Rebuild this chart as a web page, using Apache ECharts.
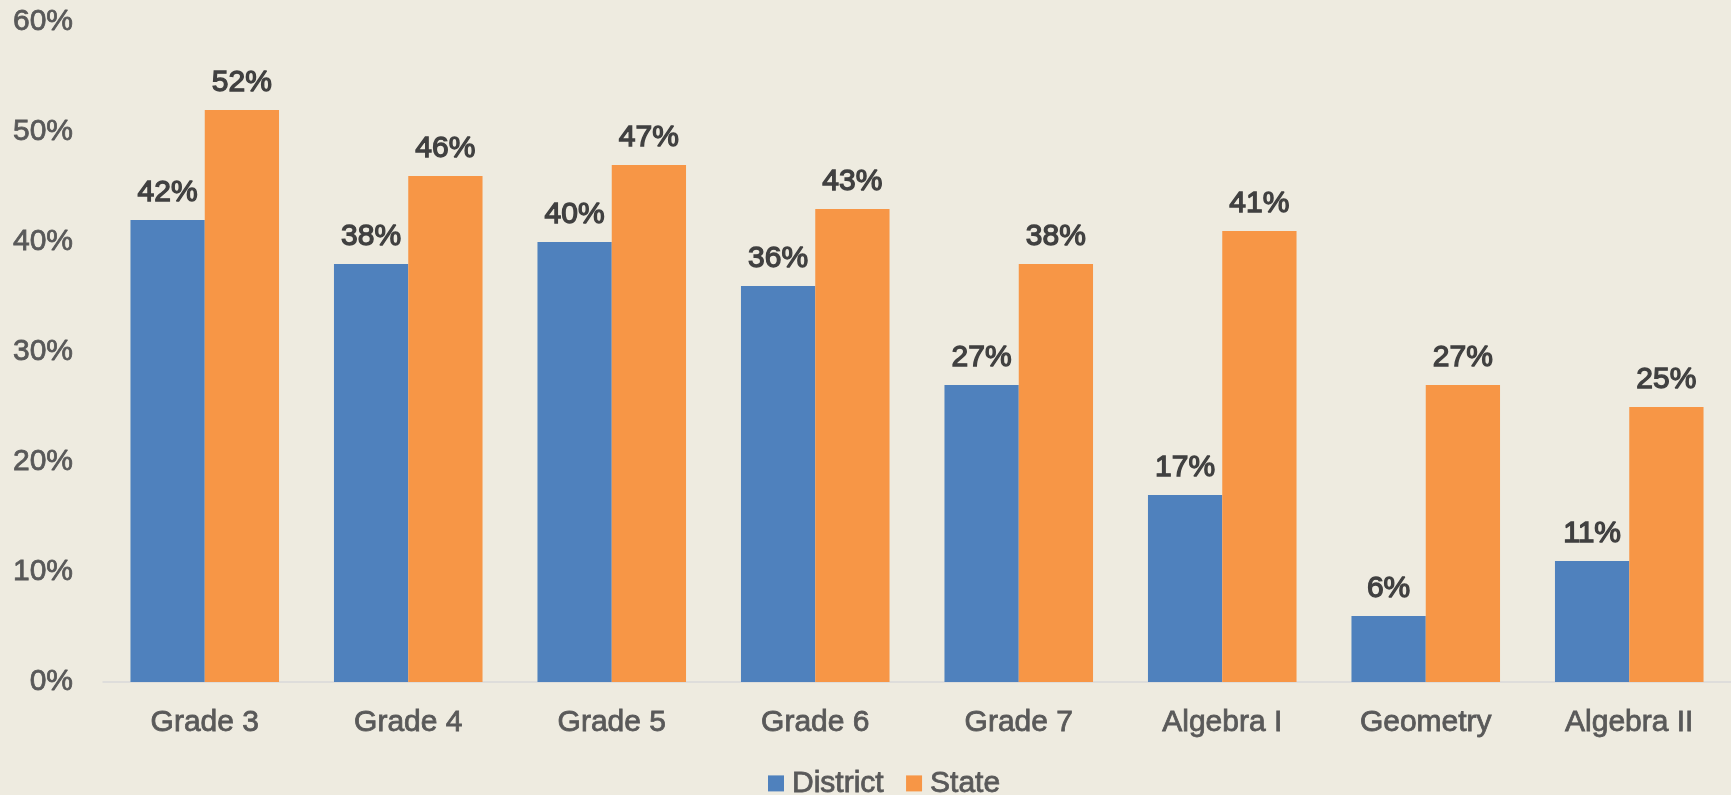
<!DOCTYPE html>
<html><head><meta charset="utf-8">
<script src="https://cdn.jsdelivr.net/npm/echarts@6/dist/echarts.min.js"></script>
<style>html,body{margin:0;padding:0;background:#EEEBE0;}#c{width:1731px;height:795px;}</style>
</head><body><div id="c"></div>
<script>
const categories = ['Grade 3','Grade 4','Grade 5','Grade 6','Grade 7','Algebra I','Geometry','Algebra II'];
const districtValues = [42,38,40,36,27,17,6,11];
const stateValues = [52,46,47,43,38,41,27,25];
const seriesNames = ['District','State'];

const FONT = '"Liberation Sans", Arial, sans-serif';
const chart = echarts.init(document.getElementById('c'), null, {renderer:'canvas'});
const labelStyle = {show:true, position:'top', distance:12, formatter: p => p.value + '%',
  color:'#404040', fontSize:30, fontWeight:'normal', fontFamily:FONT,
  textBorderColor:'#404040', textBorderWidth:1.3};
const axisText = {color:'#595959', fontSize:30, fontFamily:FONT, textBorderColor:'#595959', textBorderWidth:0.8};
chart.setOption({
  backgroundColor:'#EEEBE0',
  animation:false,
  grid:{left:103, right:0, top:22, bottom:113, containLabel:false},
  legend:{data:seriesNames, left:763, top:763, icon:'rect', itemWidth:16, itemHeight:16, itemGap:22,
    textStyle:Object.assign({padding:[0,0,0,3]}, axisText)},
  xAxis:{type:'category', data:categories,
    axisLine:{show:true, lineStyle:{color:'#D9D9D9', width:1.5}},
    axisTick:{show:false},
    axisLabel:Object.assign({margin:26}, axisText)},
  yAxis:{type:'value', min:0, max:60, interval:10,
    axisLine:{show:false}, axisTick:{show:false}, splitLine:{show:false},
    axisLabel:Object.assign({margin:30, formatter:'{value}%'}, axisText)},
  series:[
    {name:seriesNames[0], type:'bar', data:districtValues, barGap:'0%', barCategoryGap:'27%',
      itemStyle:{color:'#4F81BD'}, label:labelStyle},
    {name:seriesNames[1], type:'bar', data:stateValues, barGap:'0%', barCategoryGap:'27%',
      itemStyle:{color:'#F79646'}, label:labelStyle}
  ]
});
</script></body></html>
